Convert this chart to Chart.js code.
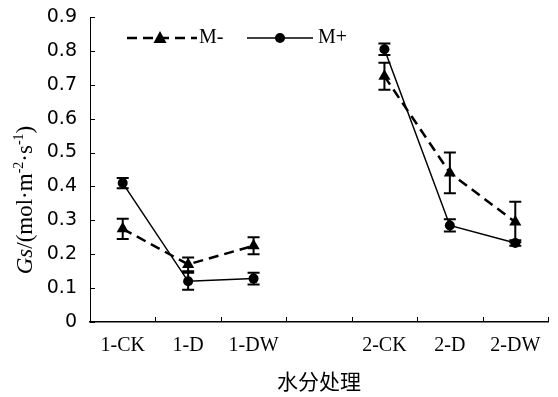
<!DOCTYPE html>
<html>
<head>
<meta charset="utf-8">
<script src="https://cdn.jsdelivr.net/npm/chart.js@4"></script>
<style>
  html, body { margin: 0; padding: 0; background: #fff; }
  #wrap { width: 558px; height: 397px; }
</style>
</head>
<body>
<div id="wrap"><canvas id="myChart"></canvas></div>
<script>
let categories = ["1-CK", "1-D", "1-DW", "", "2-CK", "2-D", "2-DW"];
let mMinus = [0.275, 0.17, 0.225, null, 0.725, 0.44, 0.295];
let mMinusErr = [0.03, 0.02, 0.025, null, 0.04, 0.06, 0.06];
let mPlus = [0.41, 0.12, 0.128, null, 0.805, 0.285, 0.233];
let mPlusErr = [0.015, 0.025, 0.017, null, 0.017, 0.018, 0.008];
let yTicks = [0, 0.1, 0.2, 0.3, 0.4, 0.5, 0.6, 0.7, 0.8, 0.9];

// error bars for each dataset
let errorBars = {
    id: "errorBars",
    afterDatasetsDraw(chart) {
        let ctx = chart.ctx;
        let y = chart.scales.y;
        let x = chart.scales.x;
        let errs = [mMinusErr, mPlusErr];
        ctx.save();
        ctx.strokeStyle = "black";
        ctx.lineWidth = 2;
        chart.data.datasets.forEach((ds, d) => {
            ds.data.forEach((v, i) => {
                if (v === null) return;
                let px = x.getPixelForValue(i);
                let top = y.getPixelForValue(v + errs[d][i]);
                let bot = y.getPixelForValue(v - errs[d][i]);
                ctx.beginPath();
                ctx.moveTo(px, top); ctx.lineTo(px, bot);
                ctx.moveTo(px - 6, top); ctx.lineTo(px + 6, top);
                ctx.moveTo(px - 6, bot); ctx.lineTo(px + 6, bot);
                ctx.stroke();
            });
        });
        ctx.restore();
    },
};

// inward tick marks on both axes
let innerTicks = {
    id: "innerTicks",
    afterDraw(chart) {
        let ctx = chart.ctx;
        let x = chart.scales.x;
        let y = chart.scales.y;
        let area = chart.chartArea;
        ctx.save();
        ctx.strokeStyle = "black";
        ctx.lineWidth = 1;
        ctx.beginPath();
        yTicks.forEach((t) => {
            let py = Math.round(y.getPixelForValue(t)) + 0.5;
            ctx.moveTo(area.left, py);
            ctx.lineTo(area.left + 5, py);
        });
        let half = (x.getPixelForValue(1) - x.getPixelForValue(0)) / 2;
        for (let i = 0; i < categories.length; i++) {
            let px = Math.round(x.getPixelForValue(i) + half) + 0.5;
            ctx.moveTo(px, area.bottom);
            ctx.lineTo(px, area.bottom - 5);
        }
        ctx.stroke();

        // y axis title with italic Gs and superscripts
        ctx.translate(26, 200);
        ctx.rotate(-Math.PI / 2);
        ctx.fillStyle = "black";
        ctx.textBaseline = "middle";
        let parts = [
            ["italic 23px 'Liberation Serif'", "Gs", 0],
            ["23px 'Liberation Serif'", "/(mol·m", 0],
            ["14px 'Liberation Serif'", "-2", -7],
            ["23px 'Liberation Serif'", "·s", 0],
            ["14px 'Liberation Serif'", "-1", -7],
            ["23px 'Liberation Serif'", ")", 0],
        ];
        let total = 0;
        parts.forEach((p) => { ctx.font = p[0]; total += ctx.measureText(p[1]).width; });
        let cx = -total / 2;
        parts.forEach((p) => {
            ctx.font = p[0];
            ctx.fillText(p[1], cx, p[2]);
            cx += ctx.measureText(p[1]).width;
        });
        ctx.restore();

        // legend
        ctx.save();
        ctx.strokeStyle = "black";
        ctx.fillStyle = "black";
        ctx.lineWidth = 2.5;
        ctx.setLineDash([10, 6]);
        ctx.beginPath();
        ctx.moveTo(127, 38); ctx.lineTo(197, 38);
        ctx.stroke();
        ctx.setLineDash([]);
        ctx.beginPath();
        ctx.moveTo(160, 31); ctx.lineTo(166.5, 43); ctx.lineTo(153.5, 43);
        ctx.closePath();
        ctx.fill();
        ctx.lineWidth = 1.5;
        ctx.beginPath();
        ctx.moveTo(247, 38); ctx.lineTo(313, 38);
        ctx.stroke();
        ctx.beginPath();
        ctx.arc(280, 38, 5, 0, Math.PI * 2);
        ctx.fill();
        ctx.font = "20px 'Liberation Serif'";
        ctx.textBaseline = "middle";
        ctx.fillText("M-", 199, 38);
        ctx.fillText("M+", 318, 38);
        ctx.restore();
    },
};

let myChart = document.getElementById("myChart").getContext("2d");

let gsChart = new Chart(myChart, {
    type: "line",
    data: {
        labels: categories,
        datasets: [
            {
                label: "M-",
                data: mMinus,
                borderColor: "black",
                backgroundColor: "black",
                borderWidth: 2.5,
                borderDash: [10, 6],
                pointStyle: "triangle",
                pointRadius: 7,
                pointBorderWidth: 0,
                spanGaps: false,
            },
            {
                label: "M+",
                data: mPlus,
                borderColor: "black",
                backgroundColor: "black",
                borderWidth: 1.5,
                pointStyle: "circle",
                pointRadius: 5,
                pointBorderWidth: 0,
                spanGaps: false,
            },
        ],
    },
    options: {
        responsive: true,
        maintainAspectRatio: false,
        animation: false,
        layout: {
            padding: { top: 17, right: 10, left: 0, bottom: 0 },
        },
        plugins: {
            legend: { display: false },
            tooltip: { enabled: false },
        },
        scales: {
            x: {
                offset: true,
                afterFit(scale) { scale.height = 75; },
                grid: { display: false, drawTicks: false },
                border: { color: "black", width: 1.5 },
                ticks: {
                    color: "black",
                    padding: 12,
                    maxRotation: 0,
                    autoSkip: false,
                    font: { size: 20, family: "Liberation Serif" },
                },
                title: {
                    display: true,
                    text: "水分处理",
                    color: "black",
                    padding: { top: 2, bottom: 3 },
                    font: { size: 21, family: "Noto Sans CJK SC" },
                },
            },
            y: {
                min: 0,
                max: 0.9,
                afterFit(scale) {
                    scale.width = 90;
                    scale.paddingTop = 0;
                    scale.paddingBottom = 0;
                },
                grid: { display: false, drawTicks: false },
                border: { color: "black", width: 1 },
                ticks: {
                    stepSize: 0.1,
                    color: "black",
                    padding: 13,
                    font: { size: 19, family: "DejaVu Sans" },
                    callback: (v) => (v === 0 ? "0" : v.toFixed(1)),
                },
            },
        },
    },
    plugins: [errorBars, innerTicks],
});
</script>
</body>
</html>
